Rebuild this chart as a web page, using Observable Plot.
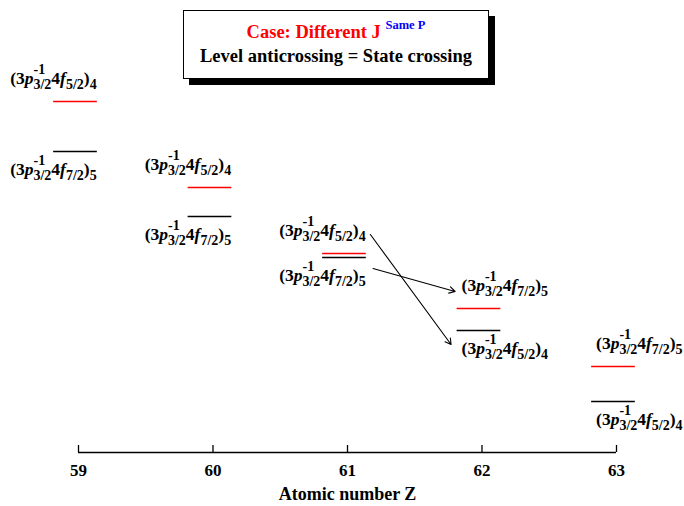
<!DOCTYPE html>
<html>
<head>
<meta charset="utf-8">
<script src="https://cdn.jsdelivr.net/npm/d3@7"></script>
<script src="https://cdn.jsdelivr.net/npm/@observablehq/plot@0.6"></script>
<style>
  html, body { margin: 0; padding: 0; background: #fff; }
  #wrap { position: relative; width: 684px; height: 506px; font-family: "Liberation Serif", "Times New Roman", serif; }
  #titlebox {
    position: absolute; left: 183px; top: 10px; width: 304px; height: 58px;
    border: 1px solid #000; background: #fff; box-shadow: 6px 6px 0 #000;
    text-align: center; font-weight: bold; font-size: 18.5px; line-height: 24px;
    padding-top: 9px; box-sizing: content-box;
  }
  #titlebox .l1 { height: 24px; }
  #titlebox sup { font-size: 12.5px; color: #0000ff; vertical-align: baseline; position: relative; top: -9px; }
</style>
</head>
<body>
<div id="wrap">
  <div id="chart"></div>
  <div id="titlebox">
    <div class="l1"><span style="color:#ff0000">Case: Different J</span> <sup>Same P</sup></div>
    <div class="l2">Level anticrossing = State crossing</div>
  </div>
</div>
<script>
// ---- data (energies in arbitrary units) ----
const zValues     = [59, 60, 61, 62, 63];
const upperEnergy = [351, 265, 199, 144, 86];   // red levels
const lowerEnergy = [301, 236, 195, 122, 51];   // black levels
const upperState  = ["5/2|4", "5/2|4", "5/2|4", "7/2|5", "7/2|5"];
const lowerState  = ["7/2|5", "7/2|5", "7/2|5", "5/2|4", "5/2|4"];
const arrowFromZ  = [61.17, 61.19];
const arrowFromE  = [218, 184];
const arrowToZ    = [61.77, 61.80];
const arrowToE    = [108, 161];
const zTicks      = [59, 60, 61, 62, 63];
const xLabel      = "Atomic number Z";

// ---- tables built from the arrays ----
const levels = [];
zValues.forEach((z, i) => {
  levels.push({z, e: upperEnergy[i], state: upperState[i], kind: "upper"});
  levels.push({z, e: lowerEnergy[i], state: lowerState[i], kind: "lower"});
});
const arrows = arrowFromZ.map((z, i) => ({x1: z, y1: arrowFromE[i], x2: arrowToZ[i], y2: arrowToE[i]}));

const HL = 0.185, HR = 0.14;   // level line extent around Z
const labelEnd   = levels.filter(d => d.z <= 61);
const labelStart = levels.filter(d => d.z >= 62);
const labelOpts = {fontSize: 17.5, fontWeight: "bold", fill: "#000"};

const chart = Plot.plot({
  width: 684, height: 506,
  marginLeft: 78, marginRight: 68, marginTop: 0, marginBottom: 54,
  x: {domain: [59, 63]},
  y: {domain: [0, 452], axis: null},
  style: {fontFamily: "'Liberation Serif', 'Times New Roman', serif", background: "transparent"},
  marks: [
    Plot.ruleY([0], {stroke: "#000", strokeWidth: 1.3}),
    Plot.tickX(zTicks, {x: d => d, insetTop: 445, stroke: "#000", strokeWidth: 1.3}),
    Plot.axisX({ticks: zTicks, tickSize: 0, tickPadding: 11, tickFormat: d => String(d), fontSize: 17, fontWeight: "bold", label: null}),
    Plot.text([xLabel], {frameAnchor: "bottom", dy: 47, text: d => d, fontSize: 18, fontWeight: "bold"}),
    Plot.ruleY(levels, {y: "e", x1: d => d.z - HL, x2: d => d.z + HR,
      stroke: d => d.kind === "upper" ? "#ff0000" : "#000", strokeWidth: 1.5}),
    Plot.text(labelEnd, {x: d => d.z + 0.135, y: "e", text: "state", textAnchor: "end", ...labelOpts}),
    Plot.text(labelStart, {x: d => d.z - 0.152, y: "e", text: "state", textAnchor: "start", ...labelOpts}),
    Plot.arrow(arrows, {x1: "x1", y1: "y1", x2: "x2", y2: "y2", stroke: "#000", strokeWidth: 1.1, headLength: 9})
  ]
});
document.getElementById("chart").appendChild(chart);

// rich-format the level labels: (3p^{-1}_{3/2} 4f_{j})_J
const svg = d3.select(chart);
const SUB = 14;
svg.selectAll("text").each(function () {
  const m = /^([57])\/2\|([45])$/.exec(this.textContent);
  if (!m) return;
  const el = d3.select(this);
  el.text("");
  el.append("tspan").text("(3");
  el.append("tspan").attr("font-style", "italic").text("p");
  const sup = el.append("tspan").attr("font-size", SUB).attr("dy", -10).text("-1");
  const w = sup.node().getComputedTextLength();
  el.append("tspan").attr("font-size", SUB).attr("dx", -w).attr("dy", 15).text("3/2");
  el.append("tspan").attr("dy", -5).text("4");
  el.append("tspan").attr("font-style", "italic").text("f");
  el.append("tspan").attr("font-size", SUB).attr("dy", 5).text(m[1] + "/2");
  el.append("tspan").attr("dy", -5).text(")");
  el.append("tspan").attr("font-size", SUB).attr("dy", 5).text(m[2]);
});
// place labels above (upper/red) or below (lower/black) their level lines
const labelGroups = svg.selectAll("g[aria-label='text']").nodes().filter(g => {
  const tx = g.querySelector("text");
  return tx && tx.querySelectorAll("tspan").length > 5;
});
[labelEnd, labelStart].forEach((data, gi) => {
  const g = labelGroups[gi];
  if (!g) return;
  g.querySelectorAll("text").forEach((tx, i) => {
    const off = data[i].kind === "upper" ? -23 : 18;
    const tr = tx.getAttribute("transform") || "";
    tx.setAttribute("transform", tr + ` translate(0,${off})`);
  });
});
</script>
</body>
</html>
